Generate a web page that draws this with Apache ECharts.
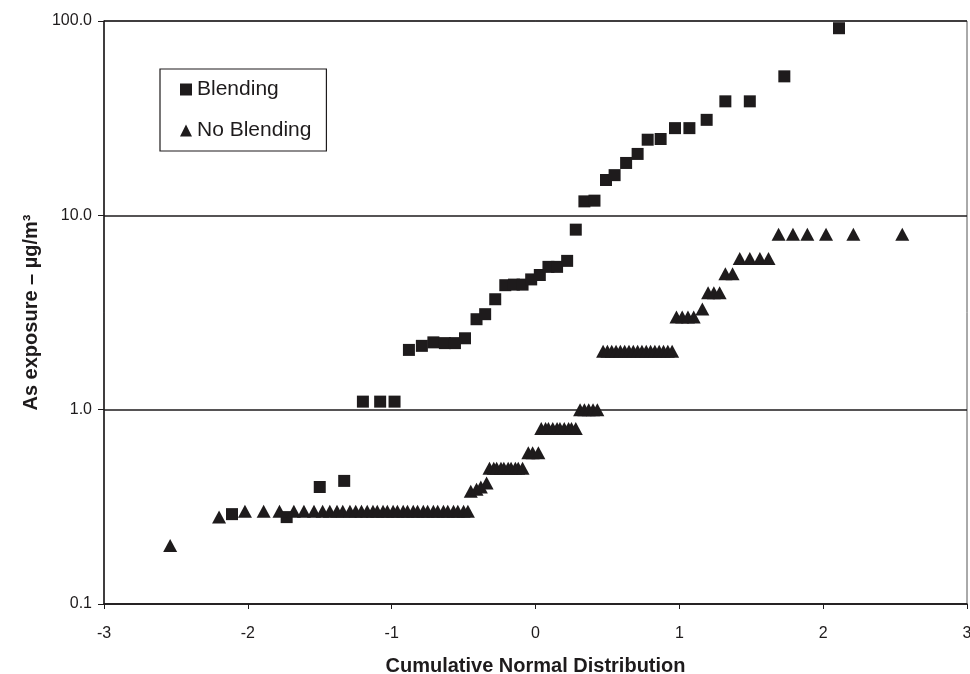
<!DOCTYPE html>
<html>
<head>
<meta charset="utf-8">
<script src="https://cdn.jsdelivr.net/npm/echarts@6/dist/echarts.min.js"></script>
<style>
  html, body { margin: 0; padding: 0; background: #fff; }
  #chart { width: 970px; height: 674px; }
</style>
</head>
<body>
<div id="chart"></div>
<script>
    // normal score (x) and exposure (y)
    const blendingZ = [-2.11, -1.73, -1.50, -1.33, -1.20, -1.08, -0.98, -0.88, -0.79, -0.71,
        -0.63, -0.56, -0.49, -0.41, -0.35, -0.28, -0.21, -0.15, -0.09, -0.03,
        0.03, 0.09, 0.15, 0.22, 0.28, 0.34, 0.41, 0.49, 0.55, 0.63,
        0.71, 0.78, 0.87, 0.97, 1.07, 1.19, 1.32, 1.49, 1.73, 2.11];
    const blendingY = [0.29, 0.28, 0.40, 0.43, 1.1, 1.1, 1.1, 2.03, 2.13, 2.22,
        2.2, 2.2, 2.33, 2.92, 3.1, 3.7, 4.37, 4.4, 4.4, 4.68,
        4.93, 5.43, 5.43, 5.83, 8.44, 11.8, 11.9, 15.2, 16.1, 18.6,
        20.7, 24.5, 24.7, 28.1, 28.1, 31, 38.6, 38.6, 51.9, 91.8];

    const noBlendingZ = [-2.54, -2.20, -2.02, -1.89, -1.78,
        -1.68, -1.61, -1.54, -1.48, -1.43, -1.38, -1.34, -1.29, -1.25, -1.21,
        -1.17, -1.13, -1.10, -1.06, -1.03, -0.99, -0.96, -0.92, -0.89, -0.85,
        -0.82, -0.78, -0.75, -0.71, -0.68, -0.64, -0.61, -0.57, -0.54, -0.50, -0.47,
        -0.45, -0.41, -0.38, -0.34,
        -0.32, -0.29, -0.27, -0.24, -0.22, -0.19, -0.17, -0.14, -0.12, -0.09,
        -0.05, -0.02, 0.02,
        0.04, 0.07, 0.09, 0.12, 0.15, 0.17, 0.20, 0.23, 0.25, 0.28,
        0.31, 0.34, 0.37, 0.40, 0.43,
        0.47, 0.50, 0.53, 0.56, 0.59, 0.62, 0.65, 0.68, 0.71, 0.74, 0.77, 0.80, 0.83, 0.86, 0.89, 0.92, 0.95,
        0.98, 1.02, 1.06, 1.10, 1.16,
        1.20, 1.24, 1.28, 1.32, 1.37,
        1.42, 1.49, 1.56, 1.62,
        1.69, 1.79, 1.89, 2.02, 2.21, 2.55];
    const noBlendingY = [0.2, 0.28, 0.3, 0.3, 0.3,
        0.3, 0.3, 0.3, 0.3, 0.3, 0.3, 0.3, 0.3, 0.3, 0.3,
        0.3, 0.3, 0.3, 0.3, 0.3, 0.3, 0.3, 0.3, 0.3, 0.3,
        0.3, 0.3, 0.3, 0.3, 0.3, 0.3, 0.3, 0.3, 0.3, 0.3, 0.3,
        0.38, 0.39, 0.40, 0.42,
        0.5, 0.5, 0.5, 0.5, 0.5, 0.5, 0.5, 0.5, 0.5, 0.5,
        0.6, 0.6, 0.6,
        0.8, 0.8, 0.8, 0.8, 0.8, 0.8, 0.8, 0.8, 0.8, 0.8,
        1, 1, 1, 1, 1,
        2, 2, 2, 2, 2, 2, 2, 2, 2, 2, 2, 2, 2, 2, 2, 2, 2,
        3, 3, 3, 3, 3.3,
        4, 4, 4, 5, 5,
        6, 6, 6, 6,
        8, 8, 8, 8, 8, 8];

    const xTicks = [-3, -2, -1, 0, 1, 2, 3];
    const yTicks = [0.1, 1, 10, 100];

    const ink = '#1e1b1c';
    const font = '"Liberation Sans", Arial, sans-serif';

    const chart = echarts.init(document.getElementById('chart'));

    const option = {
        animation: false,
        grid: {
            left: 104, right: 3, top: 21, bottom: 70,
            outerBoundsMode: 'none',
            containLabel: false,
            show: true, borderColor: '#555', borderWidth: 1
        },
        legend: {
            left: 160, top: 69,
            orient: 'vertical',
            padding: [10, 15, 10, 20],
            itemGap: 20,
            itemWidth: 12, itemHeight: 12,
            itemTextGap: 6,
            borderColor: ink, borderWidth: 1.2,
            textStyle: { fontFamily: font, fontSize: 21, color: ink },
            data: [
                { name: 'Blending', icon: 'rect' },
                { name: 'No Blending', icon: 'triangle' }
            ]
        },
        xAxis: {
            type: 'value',
            min: xTicks[0], max: xTicks[xTicks.length - 1], interval: 1,
            name: 'Cumulative Normal Distribution',
            nameLocation: 'middle', nameGap: 52,
            nameTextStyle: { fontFamily: font, fontSize: 20, fontWeight: 'bold', color: ink },
            axisLine: { onZero: false, lineStyle: { color: ink, width: 1.5 } },
            axisTick: { show: true, length: 5, lineStyle: { color: ink } },
            axisLabel: { fontFamily: font, fontSize: 16, color: ink, margin: 22 },
            splitLine: { show: false }
        },
        yAxis: {
            type: 'log', logBase: 10,
            min: yTicks[0], max: yTicks[yTicks.length - 1],
            name: 'As exposure – µg/m³',
            nameLocation: 'middle', nameGap: 62,
            nameTextStyle: { fontFamily: font, fontSize: 20, fontWeight: 'bold', color: ink },
            axisLine: { show: true, onZero: false, lineStyle: { color: ink, width: 1.5 } },
            axisTick: { show: true, length: 6, lineStyle: { color: ink } },
            axisLabel: {
                fontFamily: font, fontSize: 16, color: ink, margin: 12,
                formatter: v => v < 1 ? String(Math.round(v * 10) / 10) : Number(v).toFixed(1)
            },
            splitLine: { show: true, lineStyle: { color: ink, width: 1.5 } },
            minorTick: { show: false }
        },
        series: [
            {
                name: 'Blending',
                type: 'scatter',
                symbol: 'rect',
                symbolSize: 12,
                itemStyle: { color: ink, opacity: 1 },
                data: blendingZ.map((z, i) => [z, blendingY[i]])
            },
            {
                name: 'No Blending',
                type: 'scatter',
                symbol: 'triangle',
                symbolSize: [14, 13],
                itemStyle: { color: ink, opacity: 1 },
                data: noBlendingZ.map((z, i) => [z, noBlendingY[i]])
            }
        ]
    };

    chart.setOption(option);
</script>
</body>
</html>
